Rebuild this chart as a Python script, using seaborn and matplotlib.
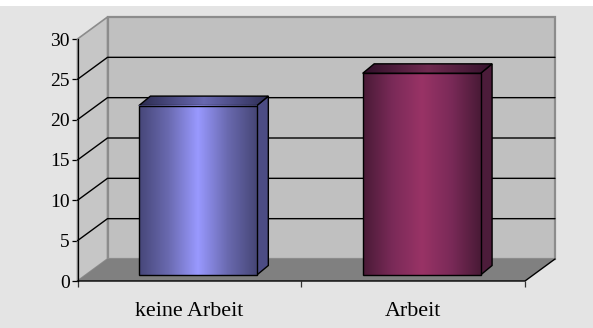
import numpy as np
import matplotlib
matplotlib.use("Agg")
import matplotlib.pyplot as plt
from matplotlib.colors import LinearSegmentedColormap
from matplotlib.patches import Polygon, Rectangle
from matplotlib.transforms import Affine2D, IdentityTransform
import seaborn as sns

categories = ["keine Arbeit", "Arbeit"]
values = [21, 25]
y_ticks = [0, 5, 10, 15, 20, 25, 30]
front_ramps = [["#464678", "#6a6ab0", "#9999ff", "#6a6ab0", "#464676"],
               ["#491a36", "#7a2a58", "#993366", "#7a2a58", "#491a36"]]
top_ramps = [["#2c2c50", "#6868b0", "#2e2e54"],
             ["#30102a", "#702a50", "#34122c"]]
side_colors = ["#4c4c84", "#4c1c3a"]

sns.set_theme(style="white")
plt.rcParams["font.family"] = ["Liberation Serif", "DejaVu Serif"]

W, H = 593, 328
fig = plt.figure(figsize=(W / 100, H / 100), dpi=100, facecolor="#e4e4e4")
ax = fig.add_axes([77.5 / W, (H - 281) / H, (525 - 77.5) / W, 242 / H])
ax.patch.set_visible(False)

sns.barplot(x=categories, y=values, width=0.527, ax=ax, zorder=5, color="#888888",
            edgecolor="black", linewidth=1, saturation=1)
ax.set_xlim(-0.5, 1.5)
ax.set_ylim(0, 30)

# Oblique projection offsets, in pixels
WALL = (30, 22)
BAR_FRONT = (8.5, 6)
BAR_DEPTH = (11.5, 9.5)
identity = IdentityTransform()


def shifted(x, v, d=(0, 0)):
    return ax.transData.transform((x, v)) + np.array(d)


def face(points, color, z, edge="none", lw=0.0):
    patch = Polygon(points, closed=True, transform=identity, facecolor=color,
                    edgecolor=edge, linewidth=lw, zorder=z, clip_on=False)
    ax.add_patch(patch)
    return patch


# White strip above the chart area
fig.patches.append(Rectangle((0, (H - 6) / H), 1, 6 / H, transform=fig.transFigure,
                             facecolor="white", edgecolor="none"))

# Back wall, side wall and floor
x0, x1 = ax.get_xlim()
face([shifted(x0, 0, WALL), shifted(x1, 0, WALL), shifted(x1, 30, WALL), shifted(x0, 30, WALL)],
     "#c0c0c0", 1, "#8c8c8c", 1.6)
face([shifted(x0, 0), shifted(x0, 0, WALL), shifted(x0, 30, WALL), shifted(x0, 30)],
     "#c6c6c6", 1.5, "#8c8c8c", 1.2)
face([shifted(x0, 0), shifted(x1, 0), shifted(x1, 0, WALL), shifted(x0, 0, WALL)],
     "#808080", 2)

for v in y_ticks[1:-1]:
    ax.plot(*zip(shifted(x0, v), shifted(x0, v, WALL), shifted(x1, v, WALL)),
            transform=identity, color="black", lw=1, zorder=3, clip_on=False)
ax.plot(*zip(shifted(x0, 0), shifted(x1, 0), shifted(x1, 0, WALL)),
        transform=identity, color="black", lw=1, zorder=4, clip_on=False)

# Bars: sheared side and top faces plus metallic gradients
gradient = np.linspace(0, 1, 256).reshape(1, -1)
span = x1 - x0
for i, bar in enumerate(ax.patches[:len(values)]):
    left, width, height = bar.get_x(), bar.get_width(), bar.get_height()
    right = left + width
    back = (BAR_FRONT[0] + BAR_DEPTH[0], BAR_FRONT[1] + BAR_DEPTH[1])
    offset = ax.transData + Affine2D().translate(*BAR_FRONT)
    bar.set_transform(offset)
    bar.set_facecolor("none")
    bar.set_zorder(8)
    bar.set_clip_on(False)

    front = ax.imshow(gradient, extent=(left, right, 0, height), aspect="auto", zorder=7,
                      cmap=LinearSegmentedColormap.from_list(f"front{i}", front_ramps[i]),
                      transform=offset)
    front.set_clip_on(False)

    face([shifted(right, 0, BAR_FRONT), shifted(right, 0, back),
          shifted(right, height, back), shifted(right, height, BAR_FRONT)],
         side_colors[i], 6, "black", 1)

    top_corners = [shifted(left, height, BAR_FRONT), shifted(right, height, BAR_FRONT),
                   shifted(right, height, back), shifted(left, height, back)]
    top = face(top_corners, "none", 6)
    # The gradient spans the full sheared width of the top face
    reach = BAR_DEPTH[0] / ax.get_window_extent().width * span
    shade = ax.imshow(gradient, extent=(left, right + reach, height, height + 2),
                      aspect="auto", zorder=6,
                      cmap=LinearSegmentedColormap.from_list(f"top{i}", top_ramps[i]),
                      transform=offset)
    shade.set_clip_path(top)
    face(top_corners, "none", 6.5, "black", 1)

ax.set_xlim(x0, x1)
ax.set_ylim(0, 30)

# Axes furniture
for name, spine in ax.spines.items():
    spine.set_visible(name == "left")
    spine.set_color("black")
    spine.set_linewidth(0.9)
    spine.set_zorder(4)
ax.set_yticks(y_ticks)
ax.set_xticks([0, 1])
ax.set_xticks([-0.5, 0.5, 1.5], minor=True)
ax.set_xticklabels(categories, fontsize=15.8, color="black")
ax.tick_params(axis="x", which="major", length=0, pad=15)
ax.tick_params(axis="x", which="minor", length=4, width=0.9, color="#333333", bottom=True)
ax.tick_params(axis="y", length=4, width=0.9, color="black", left=True, labelsize=14,
               labelcolor="black", pad=1.5)
ax.set_xlabel("")
ax.set_ylabel("")

fig.savefig("out.png", dpi=100, facecolor=fig.get_facecolor())
